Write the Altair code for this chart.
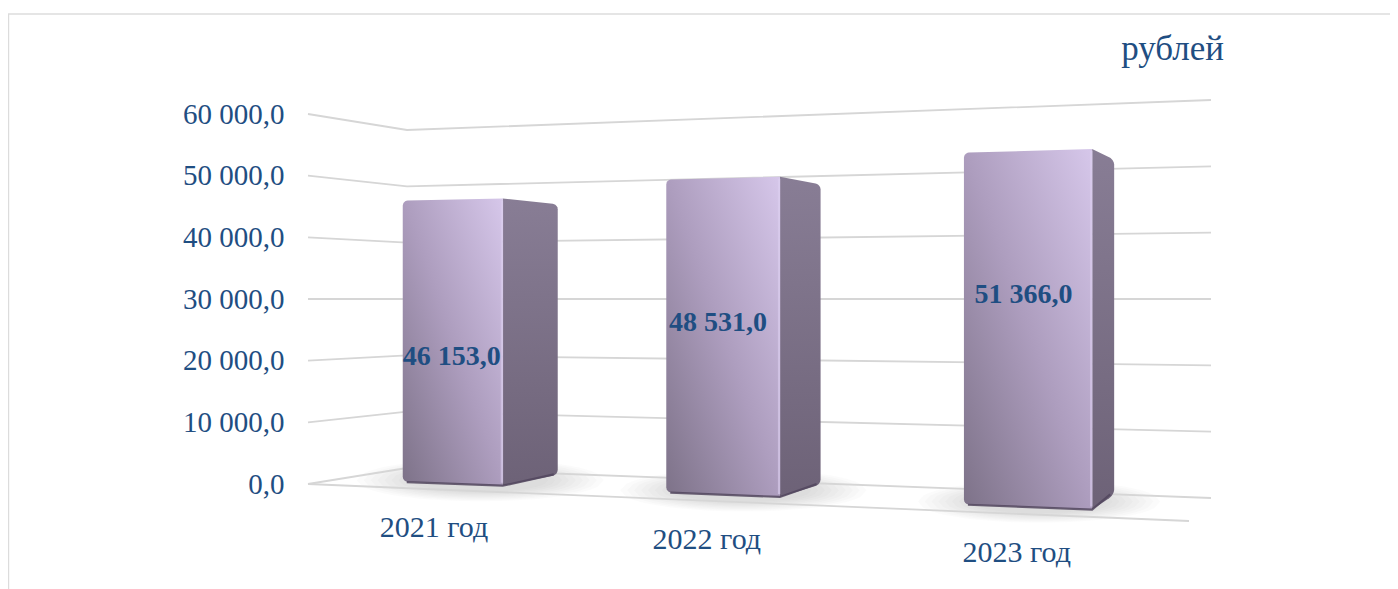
import numpy as np
import pandas as pd
import altair as alt

categories = ["2021 год", "2022 год", "2023 год"]
values = [46153.0, 48531.0, 51366.0]
value_labels = ["46 153,0", "48 531,0", "51 366,0"]
ticks = [0, 10000, 20000, 30000, 40000, 50000, 60000]
unit_label = "рублей"

# Perspective camera: four floor corners on the page, and the height of the eye line
W, H = 1382, 581
FLOOR = {(0, 0): (308, 484), (0, 1): (407, 468), (1, 1): (1211, 498), (1, 0): (1189, 521)}
EYE_Y, EYE_V = 299.0, 30000.0
K0 = (484 - 114) / 60000.0

A, b = [], []
for (u, w), (x, y) in FLOOR.items():
    A.append([u, w, 1, 0, 0, 0, -u * x, -w * x]); b.append(x)
    A.append([0, 0, 0, u, w, 1, -u * y, -w * y]); b.append(y)
HM = np.append(np.linalg.solve(np.array(A, float), np.array(b, float)), 1).reshape(3, 3)


def project(u, w, v=0.0):
    q = HM @ np.array([u, w, 1.0])
    x, fy = q[0] / q[2], q[1] / q[2]
    py = fy - v * (fy - EYE_Y) / EYE_V
    return x, py


def to_y(py):
    return (484 - py) / K0


# Bar placement on the floor (normalised units)
centres = [0.155, 0.4935, 0.8307]
half_w = [0.0665, 0.067, 0.0665]
w_front = 0.29
w_backs = [0.94, 0.95, 0.98]
R = 5.0
DX = [0, 0.4, 1.2, 2.4, 3.6, 5.0]

x_scale = alt.Scale(domain=[8, 8 + W], nice=False, zero=False)
y_scale = alt.Scale(domain=[to_y(8 + H), to_y(8)], nice=False, zero=False)
X = alt.X("x:Q", scale=x_scale, axis=None)
Y = alt.Y("y:Q", scale=y_scale)
Y2 = alt.Y2("y2:Q")

FONT = "Liberation Serif"
INK = "#1f4e82"


def grad(stops, x1, y1, x2, y2):
    return alt.Gradient(gradient="linear", x1=x1, y1=y1, x2=x2, y2=y2,
                        stops=[alt.GradientStop(offset=o, color=c) for o, c in stops])


front_fill = grad([(0, "#7d7288"), (0.5, "#ad9dbe"), (1, "#d6c7ea")], 0, 1, 1, 0)
side_fill = grad([(0, "#887d95"), (1, "#6d6277")], 0, 0, 0, 1)


def inset(dx):
    return R - np.sqrt(max(R * R - (R - dx) ** 2, 0))


def face(xa, ta, ba, xb, tb, bb, round_left):
    """x-monotone polygon of one vertical bar face, with two rounded outer corners."""
    rows = []
    slope_t, slope_b = (tb - ta) / (xb - xa), (bb - ba) / (xb - xa)
    xs = [xa + d for d in DX] + [xb] if round_left else [xa] + [xb - d for d in reversed(DX)]
    for x in xs:
        d = (x - xa) if round_left else (xb - x)
        c = inset(d) if d < R else 0
        rows.append({"x": x, "y": to_y(ta + slope_t * (x - xa) + c), "y2": to_y(ba + slope_b * (x - xa) - c)})
    return pd.DataFrame(rows)


layers = []

# y axis carrier (real axis, moved in next to the walls)
axis_df = pd.DataFrame({"x": [8.0, 8.0], "y": [0.0, 60000.0]})
layers.append(alt.Chart(axis_df).mark_point(opacity=0).encode(
    x=X,
    y=alt.Y("y:Q", scale=y_scale, axis=alt.Axis(
        values=ticks, title=None, orient="left", offset=-276, domain=False, ticks=False, grid=False,
        labelPadding=0, labelFont=FONT, labelFontSize=29, labelColor=INK, labelBaseline="middle",
        labelAlign="right", labelOverlap=False,
        labelExpr="replace(replace(format(datum.value, ',.1f'), ',', ' '), '.', ',')")),
))

# card frame
layers.append(alt.Chart(pd.DataFrame({"k": [0]})).mark_rule(color="#dcdcdc", strokeWidth=1.6).encode(
    x=alt.value(0), x2=alt.value(W), y=alt.value(6)))
layers.append(alt.Chart(pd.DataFrame({"k": [0]})).mark_rule(color="#dcdcdc", strokeWidth=2.4).encode(
    x=alt.value(0), y=alt.value(6), y2=alt.value(H)))

# soft floor shadows: stacked, nearly clear ellipses round each bar's footprint
for i in range(3):
    xl, bl = project(centres[i] - half_w[i], w_front)
    xb, bk = project(centres[i] + half_w[i], w_backs[i])
    cx, cy = (xl + xb) / 2, (bl + bk) / 2 + 2
    for s in np.linspace(1.0, 0.55, 9):
        rx, ry = ((xb - xl) / 2 + 46) * s, 21 * s
        t = np.linspace(-1, 1, 41)
        half = ry * np.sqrt(1 - t ** 2)
        df = pd.DataFrame({"x": cx + rx * t,
                           "y": [to_y(p) for p in cy - half],
                           "y2": [to_y(p) for p in cy + half]})
        layers.append(alt.Chart(df).mark_area(color="#808080", opacity=0.035, orient="vertical").encode(
            x=X, y=Y, y2=Y2))

# walls and floor
rows = []
for t in ticks:
    for (u, w) in [(0, 0), (0, 1), (1, 1)]:
        x, py = project(u, w, t)
        rows.append({"x": x, "y": to_y(py), "g": f"t{t}"})
for (u, w) in [(0, 0), (1, 0)]:
    x, py = project(u, w, 0)
    rows.append({"x": x, "y": to_y(py), "g": "front"})
layers.append(alt.Chart(pd.DataFrame(rows)).mark_line(color="#d6d6d6", strokeWidth=1.8).encode(
    x=X, y=Y, detail="g:N"))

# bars
for i, v in enumerate(values):
    ul, ur = centres[i] - half_w[i], centres[i] + half_w[i]
    xl, bl = project(ul, w_front, 0); _, tl = project(ul, w_front, v)
    xr, br = project(ur, w_front, 0); _, tr = project(ur, w_front, v)
    xb, bb2 = project(ur, w_backs[i], 0); _, tb = project(ur, w_backs[i], v)

    layers.append(alt.Chart(face(xr, tr, br, xb, tb, bb2, False)).mark_area(
        color=side_fill, orient="vertical").encode(x=X, y=Y, y2=Y2))
    layers.append(alt.Chart(face(xl, tl, bl, xr, tr, br, True)).mark_area(
        color=front_fill, orient="vertical").encode(x=X, y=Y, y2=Y2))

    edge_front = pd.DataFrame({"x": [xl + 4, xr, xb - 4],
                               "y": [to_y(bl + 0.4), to_y(br), to_y(bb2 - 0.4)]})
    layers.append(alt.Chart(edge_front).mark_line(color="#52465e", strokeWidth=2.2, opacity=0.85).encode(x=X, y=Y))
    edge_light = pd.DataFrame({"x": [xr - 0.8, xr - 0.8], "y": [to_y(tr + 2), to_y(br - 3)], "o": [0, 1]})
    layers.append(alt.Chart(edge_light).mark_line(color="#dccff0", strokeWidth=2.4, opacity=0.6).encode(
        x=X, y=Y, order="o:Q"))

# data labels (placed by hand in the source, so per-bar nudges)
label_shift_x = [-1, -5, -4.5]
label_shift_y = [15, -13, -34]
for i, v in enumerate(values):
    ul, ur = centres[i] - half_w[i], centres[i] + half_w[i]
    xl, _ = project(ul, w_front); xr, _ = project(ur, w_front)
    _, mid = project(centres[i], w_front, v / 2)
    df = pd.DataFrame({"x": [(xl + xr) / 2], "y": [to_y(mid)], "t": [value_labels[i]]})
    layers.append(alt.Chart(df).mark_text(
        font=FONT, fontSize=28, fontWeight="bold", color=INK, align="center", baseline="middle",
        dx=label_shift_x[i], dy=label_shift_y[i]).encode(x=X, y=Y, text="t:N"))

# category labels, in front of the floor
label_u = [0.347, 0.616, 0.889]
label_w = [-1.395, -1.342, -1.27]
rows = []
for c, u, w in zip(categories, label_u, label_w):
    x, py = project(u, w)
    rows.append({"x": x, "y": to_y(py), "t": c})
layers.append(alt.Chart(pd.DataFrame(rows)).mark_text(
    font=FONT, fontSize=30, color=INK, align="center", baseline="middle").encode(x=X, y=Y, text="t:N"))

# unit caption
layers.append(alt.Chart(pd.DataFrame({"t": [unit_label]})).mark_text(
    font=FONT, fontSize=35, color=INK, align="right", baseline="middle").encode(
    x=alt.value(1216), y=alt.value(41), text="t:N"))

chart = alt.layer(*layers).properties(
    width=W, height=H, padding=0, background="white", autosize=alt.AutoSizeParams(type="none"),
).configure_view(stroke=None)

chart.save("out.html", embed_options={"renderer": "svg", "actions": False})
